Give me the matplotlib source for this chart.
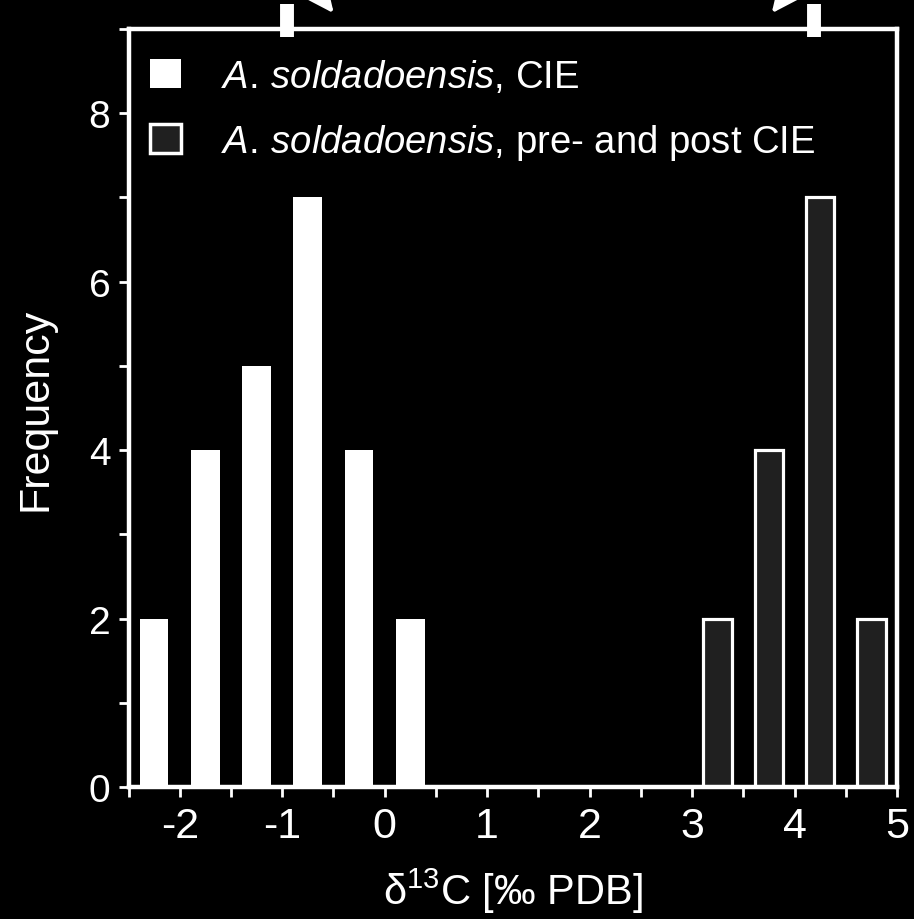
import matplotlib
matplotlib.use('Agg')
import matplotlib.pyplot as plt
from matplotlib.patches import Patch
from matplotlib.ticker import MultipleLocator

# Histogram bin centres (d13C) and counts
cie_centers = [-2.25, -1.75, -1.25, -0.75, -0.25, 0.25]
cie_counts = [2, 4, 5, 7, 4, 2]
prepost_centers = [3.25, 3.75, 4.25, 4.75]
prepost_counts = [2, 4, 7, 2]
# Means marked on the top axis
mean_marks = [-0.95, 4.19]

plt.rcParams['font.family'] = ['Liberation Sans', 'DejaVu Sans']
plt.rcParams['axes.unicode_minus'] = False
plt.rcParams['mathtext.fontset'] = 'custom'
plt.rcParams['mathtext.rm'] = 'Liberation Sans'
plt.rcParams['mathtext.it'] = 'Liberation Sans:italic'

fg = 'white'
dark = '#202020'

fig = plt.figure(figsize=(9.14, 9.2), dpi=100, facecolor='black')
ax = fig.add_axes([0.1406, 0.1435, 0.8408, 0.8239], facecolor='black')

ax.bar(cie_centers, cie_counts, width=0.28, color=fg, edgecolor=fg, linewidth=0)
ax.bar(prepost_centers, prepost_counts, width=0.28, color=dark, edgecolor=fg, linewidth=2.3)

ax.set_xlim(-2.5, 5)
ax.set_ylim(0, 9)

# thick marks on the top axis + incoming arrowheads from the panel above
ax.vlines(mean_marks, 8.91, 9.3, colors=fg, linewidth=10, clip_on=False, zorder=5)
arrow = dict(arrowstyle='-|>,head_length=1.3,head_width=0.6', color=fg, lw=3,
             mutation_scale=22)
ax.annotate('', xy=(-0.48, 9.16), xytext=(-0.95, 9.9), arrowprops=arrow,
            annotation_clip=False)
ax.annotate('', xy=(3.76, 9.16), xytext=(4.23, 9.9), arrowprops=arrow,
            annotation_clip=False)

for s in ax.spines.values():
    s.set_color(fg)
    s.set_linewidth(3.2)

ax.xaxis.set_major_locator(MultipleLocator(1))
ax.xaxis.set_minor_locator(MultipleLocator(0.5))
ax.yaxis.set_major_locator(MultipleLocator(2))
ax.yaxis.set_minor_locator(MultipleLocator(1))
ax.tick_params(which='both', direction='out', length=7, width=2, color=fg, colors=fg)
ax.tick_params(axis='x', which='major', labelsize=31, pad=7)
ax.tick_params(axis='y', which='major', labelsize=28, pad=6)

ax.set_xlabel('δ$^{13}$C [‰ PDB]', color=fg, fontsize=30, labelpad=14)
ax.set_ylabel('Frequency', color=fg, fontsize=31, labelpad=24)

handles = [Patch(facecolor=fg, edgecolor=fg, linewidth=0),
           Patch(facecolor=dark, edgecolor=fg, linewidth=2.5)]
labels = [r'$\mathit{A.\,soldadoensis}$, CIE',
          r'$\mathit{A.\,soldadoensis}$, pre- and post CIE']
leg = ax.legend(handles, labels, loc='upper left', bbox_to_anchor=(0.028, 0.962),
                frameon=False, fontsize=27.5, handlelength=0.8, handleheight=0.8,
                handletextpad=1.05, labelspacing=0.7, borderpad=0, borderaxespad=0)
for t in leg.get_texts():
    t.set_color(fg)

fig.savefig('out.png', dpi=100, facecolor='black')
